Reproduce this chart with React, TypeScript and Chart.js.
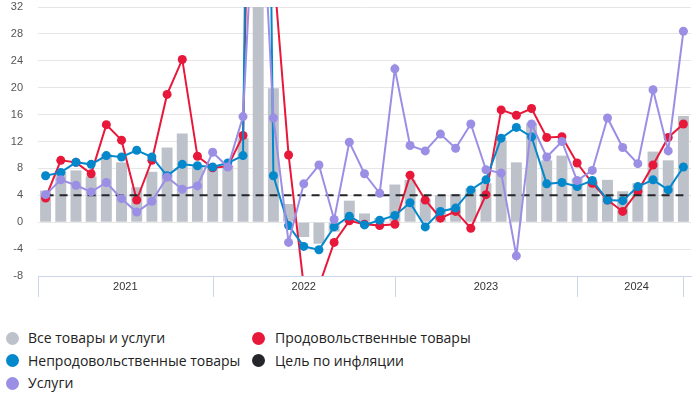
import React, { useEffect, useRef } from 'react';
import { Chart, registerables } from 'chart.js';

Chart.register(...registerables);

const yearLabels = ['2021', '2022', '2023', '2024'];
const yearEndIndex = [11, 23, 35, 42];
const monthNames = ['янв', 'фев', 'мар', 'апр', 'май', 'июн', 'июл', 'авг', 'сен', 'окт', 'ноя', 'дек'];
const categories: string[] = [];
for (let y = 0; y < 4; y++) {
  for (let m = 0; m < 12; m++) {
    if (categories.length < 43) categories.push(monthNames[m] + ' ' + yearLabels[y]);
  }
}

const allGoods = [4.7, 7.6, 7.7, 6.8, 10.1, 8.9, 5.2, 7.5, 11.1, 13.2, 8.5, 8.2, 8.4, 12.5, 80, 19.9, 2.7, -2.2, -3.2, -1.4, 3.2, 1.3, 0.6, 5.6, 6.3, 3.4, 4.0, 4.2, 5.0, 5.8, 12.2, 8.9, 14.7, 9.2, 9.9, 6.5, 6.1, 6.3, 4.6, 5.8, 10.5, 9.2, 15.8];
const foodGoods = [3.6, 9.2, 8.9, 7.2, 14.5, 12.2, 3.3, 9.2, 19.0, 24.2, 9.8, 8.1, 8.3, 12.9, 120, 38, 10.0, -9.5, -9.5, -3.0, 0.2, -0.3, -0.5, -0.3, 7.0, 3.3, 0.6, 1.6, -0.9, 4.1, 16.7, 15.9, 16.9, 12.6, 12.7, 8.8, 5.8, 3.3, 1.6, 4.6, 8.5, 12.6, 14.6];
const nonFoodGoods = [6.9, 7.4, 8.9, 8.6, 9.9, 9.7, 10.7, 9.7, 6.9, 8.6, 8.4, 8.2, 8.8, 9.9, 200, 6.9, -0.5, -3.6, -4.1, -0.7, 0.9, -0.4, 0.3, 1.0, 2.9, -0.7, 1.6, 2.1, 4.8, 6.3, 12.5, 14.1, 12.7, 5.7, 5.9, 5.3, 6.2, 3.3, 3.2, 5.3, 6.3, 4.8, 8.2];
const services = [4.1, 6.3, 5.5, 4.5, 5.9, 3.5, 1.5, 3.1, 6.7, 4.9, 5.4, 10.4, 8.2, 15.7, 60, 15.5, -3.0, 5.7, 8.5, 0.4, 11.9, 7.2, 4.3, 22.8, 11.4, 10.6, 13.1, 11.0, 14.6, 7.8, 7.3, -5.0, 14.6, 9.7, 12.0, 6.2, 7.7, 15.5, 11.1, 8.7, 19.7, 10.6, 28.4];
const inflationTarget = 4;

const COLORS = {
  all: '#bcc1ca',
  food: '#e8183a',
  nonFood: '#0388cc',
  target: '#25262b',
  services: '#9a8fe4',
};

const legendItems = [
  { label: 'Все товары и услуги', color: COLORS.all, col: 0, row: 0 },
  { label: 'Продовольственные товары', color: COLORS.food, col: 1, row: 0 },
  { label: 'Непродовольственные товары', color: COLORS.nonFood, col: 0, row: 1 },
  { label: 'Цель по инфляции', color: COLORS.target, col: 1, row: 1 },
  { label: 'Услуги', color: COLORS.services, col: 0, row: 2 },
];

const yearBandsPlugin = {
  id: 'yearBands',
  afterDraw(chart: any) {
    const { ctx, chartArea, scales } = chart;
    const xs = scales.x;
    const bottom = chartArea.bottom;
    const edges = [chartArea.left, ...yearEndIndex.map((i) => xs.getPixelForValue(i))];
    ctx.save();
    ctx.strokeStyle = '#ccd6eb';
    ctx.lineWidth = 1;
    edges.forEach((px) => {
      const xx = Math.round(px) + 0.5;
      ctx.beginPath();
      ctx.moveTo(xx, bottom);
      ctx.lineTo(xx, bottom + 21);
      ctx.stroke();
    });
    ctx.fillStyle = '#333333';
    ctx.font = '11px "Liberation Sans", Arial, sans-serif';
    ctx.textAlign = 'center';
    ctx.textBaseline = 'middle';
    yearLabels.forEach((lab, k) => {
      const a = edges[k];
      const b = k === yearLabels.length - 1 ? chart.width - 4 : edges[k + 1];
      ctx.fillText(lab, (a + b) / 2, bottom + 10.5);
    });
    ctx.restore();
  },
};

const lineStyle = (color: string) => ({
  borderColor: color,
  backgroundColor: color,
  pointBackgroundColor: color,
  borderWidth: 2,
  pointRadius: 4.5,
  pointBorderWidth: 0,
  pointHoverRadius: 4.5,
  tension: 0,
  fill: false,
});

export default function App() {
  const canvasRef = useRef<HTMLCanvasElement | null>(null);

  useEffect(() => {
    if (!canvasRef.current) return;
    const chart = new Chart(canvasRef.current, {
      type: 'bar',
      data: {
        labels: categories,
        datasets: [
          {
            type: 'bar',
            label: 'Все товары и услуги',
            data: allGoods,
            backgroundColor: COLORS.all,
            barPercentage: 0.72,
            categoryPercentage: 1,
            order: 5,
          } as any,
          {
            type: 'line',
            label: 'Продовольственные товары',
            data: foodGoods,
            ...lineStyle(COLORS.food),
            order: 4,
          },
          {
            type: 'line',
            label: 'Непродовольственные товары',
            data: nonFoodGoods,
            ...lineStyle(COLORS.nonFood),
            order: 3,
          },
          {
            type: 'line',
            label: 'Цель по инфляции',
            data: categories.map(() => inflationTarget),
            borderColor: COLORS.target,
            borderWidth: 2,
            borderDash: [8, 6],
            pointRadius: 0,
            tension: 0,
            fill: false,
            order: 2,
          },
          {
            type: 'line',
            label: 'Услуги',
            data: services,
            ...lineStyle(COLORS.services),
            order: 1,
          },
        ],
      },
      options: {
        animation: false,
        responsive: true,
        maintainAspectRatio: false,
        layout: { padding: { top: 7, right: 9, left: 0, bottom: 0 } },
        plugins: {
          legend: { display: false },
          tooltip: { enabled: false },
        },
        scales: {
          x: {
            type: 'category',
            offset: true,
            grid: { display: false },
            ticks: { display: false },
            border: { display: true, color: '#ccd6eb', width: 1 },
            afterFit: (s: any) => {
              s.height = 24;
              s.paddingTop = 0;
              s.paddingBottom = 0;
            },
          },
          y: {
            min: -8,
            max: 32,
            ticks: {
              stepSize: 4,
              padding: 15,
              color: '#555555',
              font: { family: '"Liberation Sans", Arial, sans-serif', size: 11 },
            },
            grid: { color: '#e6e6e6', drawTicks: false, lineWidth: 1 },
            border: { display: false },
            afterFit: (s: any) => {
              s.width = 38;
              s.paddingTop = 0;
              s.paddingBottom = 0;
            },
          },
        },
      },
      plugins: [yearBandsPlugin],
    });
    return () => chart.destroy();
  }, []);

  return (
    <div
      style={{
        position: 'absolute',
        left: 0,
        top: 0,
        width: 700,
        height: 395,
        background: '#ffffff',
        fontFamily: '"Open Sans", "Liberation Sans", Arial, sans-serif',
      }}
    >
      <div style={{ position: 'absolute', left: 0, top: 0, width: 700, height: 300 }}>
        <canvas ref={canvasRef} />
      </div>
      {legendItems.map((it) => {
        const cx = it.col === 0 ? 12.7 : 258.5;
        const tx = it.col === 0 ? 28 : 275;
        const cy = 338.3 + it.row * 22.5;
        return (
          <div key={it.label}>
            <div
              style={{
                position: 'absolute',
                left: cx - 6.5,
                top: cy - 6.5,
                width: 13,
                height: 13,
                borderRadius: '50%',
                background: it.color,
              }}
            />
            <div
              style={{
                position: 'absolute',
                left: tx,
                top: cy - 10,
                height: 20,
                lineHeight: '20px',
                fontSize: 14,
                color: '#222222',
                whiteSpace: 'nowrap',
              }}
            >
              {it.label}
            </div>
          </div>
        );
      })}
    </div>
  );
}
